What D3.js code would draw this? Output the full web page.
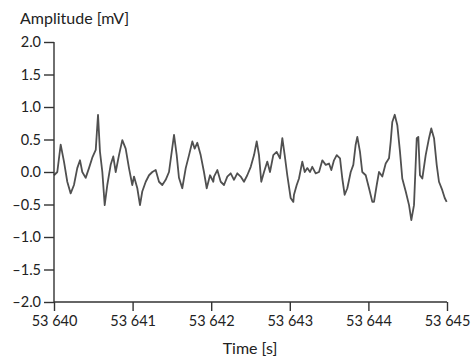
<!DOCTYPE html>
<html><head><meta charset="utf-8">
<script src="https://cdn.jsdelivr.net/npm/d3@7"></script>
<style>body{margin:0;background:#fff}svg{display:block}text{font-family:Lato,"Open Sans",sans-serif;fill:#222}</style>
</head><body>
<script>
const timeOffsets = [0.000,0.042,0.085,0.127,0.169,0.212,0.254,0.296,0.331,0.360,0.403,0.445,0.487,0.531,0.560,0.585,0.615,0.645,0.678,0.721,0.754,0.785,0.827,0.869,0.912,0.954,0.996,
1.018,1.060,1.094,1.123,1.167,1.209,1.251,1.294,1.336,1.378,1.421,1.463,1.492,1.527,1.561,1.590,1.632,1.676,1.718,1.760,1.790,1.823,1.866,1.908,1.943,1.985,2.027,
2.036,2.078,2.121,2.163,2.205,2.248,2.290,2.332,2.375,2.417,2.459,2.503,2.545,2.579,2.608,2.637,2.672,2.714,2.748,2.790,2.833,2.875,2.905,2.935,2.968,3.011,3.045,
3.053,3.088,3.117,3.159,3.190,3.223,3.257,3.286,3.329,3.372,3.414,3.457,3.499,3.528,3.562,3.597,3.639,3.668,3.698,3.732,3.775,3.808,3.838,3.859,3.893,3.922,3.966,4.008,4.050,
4.071,4.106,4.135,4.177,4.220,4.262,4.284,4.304,4.335,4.368,4.402,4.431,4.475,4.517,4.546,4.580,4.615,4.635,4.656,4.686,4.729,4.771,4.800,4.835,4.869,4.898,4.940,4.971,4.996];
const amplitudes = [-0.05,0.00,0.42,0.16,-0.15,-0.33,-0.20,0.06,0.18,0.00,-0.09,0.06,0.22,0.34,0.88,0.31,0.00,-0.51,-0.20,0.11,0.24,0.00,0.26,0.49,0.36,0.06,-0.20,
-0.07,-0.25,-0.51,-0.30,-0.15,-0.05,0.00,0.03,-0.15,-0.20,-0.12,0.00,0.26,0.57,0.26,-0.09,-0.25,0.06,0.26,0.47,0.36,0.45,0.26,0.00,-0.25,-0.05,-0.15,
-0.07,0.03,-0.15,-0.20,-0.07,-0.02,-0.12,-0.02,-0.07,-0.15,-0.05,0.08,0.26,0.47,0.26,-0.15,0.00,0.16,0.00,0.26,0.31,0.21,0.52,0.26,-0.05,-0.40,-0.46,
-0.35,-0.20,-0.10,0.16,0.00,0.06,0.00,0.08,-0.02,0.00,0.18,0.11,0.13,0.03,0.18,0.26,0.21,-0.10,-0.35,-0.25,0.00,0.11,0.42,0.54,0.31,0.00,-0.05,-0.25,-0.46,
-0.46,-0.20,0.00,-0.07,0.13,0.21,0.47,0.77,0.88,0.72,0.31,-0.10,-0.30,-0.51,-0.74,-0.51,0.52,0.54,-0.05,-0.10,0.26,0.52,0.67,0.52,0.11,-0.15,-0.28,-0.40,-0.46];
const timeStart = 53640;
const xTicks = [53640,53641,53642,53643,53644,53645];
const yTicks = [-2.0,-1.5,-1.0,-0.5,0.0,0.5,1.0,1.5,2.0];
const xTitle = "Time [s]";
const yTitle = "Amplitude [mV]";

const W = 473, H = 359;
const m = {left:54, right:26, top:42, bottom:57};
const svg = d3.select("body").append("svg").attr("width",W).attr("height",H);
const x = d3.scaleLinear().domain([53640,53645]).range([m.left, W-m.right]);
const y = d3.scaleLinear().domain([-2,2]).range([H-m.bottom, m.top]);
const loc = d3.formatLocale({decimal:".", thousands:" ", grouping:[3], currency:["",""], minus:"–"});
const fx = loc.format(",d"), fy = loc.format(".1f");

const data = timeOffsets.map((t,i)=>({t: timeStart + t, v: amplitudes[i]}));

const line = d3.line().x(d=>x(d.t)).y(d=>y(d.v)).curve(d3.curveLinear);
svg.append("path").datum(data).attr("d",line).attr("fill","none")
  .attr("stroke","#505050").attr("stroke-width",1.8).attr("stroke-linejoin","round");

const gx = svg.append("g").attr("transform",`translate(0,${y(-2)})`)
  .call(d3.axisBottom(x).tickValues(xTicks).tickFormat(fx).tickSize(9).tickPadding(5));
const gy = svg.append("g").attr("transform",`translate(${x(53640)},0)`)
  .call(d3.axisLeft(y).tickValues(yTicks).tickFormat(fy).tickSize(10).tickPadding(3));
[gx,gy].forEach(g=>{
  g.select(".domain").attr("stroke","#333").attr("stroke-width",1.4);
  g.selectAll(".tick line").attr("stroke","#333").attr("stroke-width",1.4);
  g.selectAll("text").attr("font-size",14.5).attr("fill","#222").style("font-family","Lato, 'Open Sans', sans-serif");
});
gx.select(".domain").attr("d",`M${x(53640)},0H${x(53645)}`);
gy.select(".domain").attr("d",`M0,${y(2)}V${y(-2)}`);

svg.append("text").attr("x",250).attr("y",354).attr("text-anchor","middle").attr("font-size",16).text(xTitle);
svg.append("text").attr("x",20).attr("y",24).attr("font-size",16).text(yTitle);
</script>
</body></html>
